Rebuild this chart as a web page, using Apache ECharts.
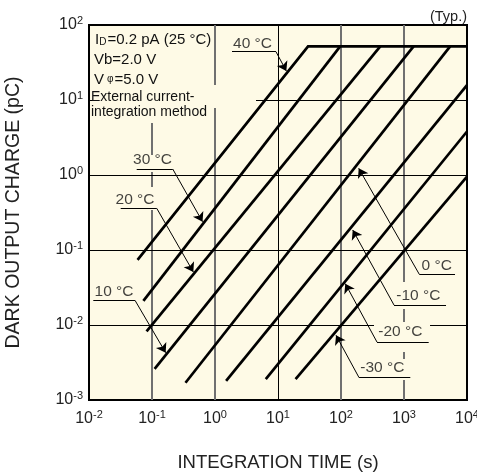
<!DOCTYPE html>
<html><head><meta charset="utf-8">
<script src="https://cdn.jsdelivr.net/npm/echarts@6/dist/echarts.min.js"></script>
<style>html,body{margin:0;padding:0;background:#fff}#c{width:477px;height:474px}</style>
</head><body><div id="c"></div>
<script>
// ---- data ----
const xTicks = [0.01, 0.1, 1, 10, 100, 1000, 10000];
const yTicks = [0.001, 0.01, 0.1, 1, 10, 100];
const temps = ['40 °C', '30 °C', '20 °C', '10 °C', '0 °C', '-10 °C', '-20 °C', '-30 °C'];
// [integration time (s), dark output charge (pC)]
const t40 = [[0.059, 0.074], [30, 52], [10000, 52]];
const t30 = [[0.073, 0.021], [97, 52]];
const t20 = [[0.082, 0.0082], [420, 52]];
const t10 = [[0.11, 0.0026], [1420, 52]];
const t0 = [[0.34, 0.0017], [5400, 52]];
const tm10 = [[1.5, 0.0018], [10000, 15.8]];
const tm20 = [[6.4, 0.0019], [10000, 3.8]];
const tm30 = [[19, 0.0019], [10000, 0.95]];
const curves = [t40, t30, t20, t10, t0, tm10, tm20, tm30];

// ---- annotation layout (log10 data coordinates) ----
// text centre, underline [x1,x2,y], arrow tip, side of leader start
const ann = [
  [[0.595, 1.747], [0.270, 0.968, 1.644], [1.132, 1.387], 'L'],
  [[-0.992, 0.200], [-1.243, -0.671, 0.080], [-0.198, -0.623], 'L'],
  [[-1.270, -0.333], [-1.497, -0.925, -0.444], [-0.344, -1.293], 'L'],
  [[-1.603, -1.553], [-1.932, -1.270, -1.671], [-0.783, -2.369], 'L'],
  [[3.519, -1.213], [3.243, 3.810, -1.324], [2.281, 0.089], 'R'],
  [[3.227, -1.613], [2.841, 3.667, -1.733], [2.186, -0.733], 'R'],
  [[2.941, -2.093], [2.571, 3.392, -2.227], [2.068, -1.449], 'R'],
  [[2.656, -2.567], [2.281, 3.100, -2.693], [1.921, -2.137], 'R']
];
const P = v => Math.pow(10, v);
// grid line segments (log10): vertical [x, y1, y2], horizontal [y, x1, x2]
const vGrey = [[-1, 0.693, 0.267], [-1, 0.04, -0.16], [-1, -0.467, -3], [0, 2, 1.2], [0, 0.893, -3],
  [2, 2, -3], [3, 2, -1.427], [3, -1.787, -1.96], [3, -2.36, -2.453], [3, -2.733, -3]];
const vBlack = [[1, 2, -3]];
const hBlack = [[1, -2, -1.905], [1, 0.651, 4], [0, -2, 4], [-1, -2, 4], [-2, -2, 2.524], [-2, 3.413, 4]];

const FONT = "'Liberation Sans', Arial, Helvetica, sans-serif";
const chart = echarts.init(document.getElementById('c'), null, {renderer: 'canvas'});

const gridGrey = vGrey.map(s => ({coords: [[P(s[0]), P(s[1])], [P(s[0]), P(s[2])]]}));
const gridBlack = vBlack.map(s => ({coords: [[P(s[0]), P(s[1])], [P(s[0]), P(s[2])]]}))
  .concat(hBlack.map(s => ({coords: [[P(s[1]), P(s[0])], [P(s[2]), P(s[0])]]})));
const underlines = ann.map(a => ({coords: [[P(a[1][0]), P(a[1][2])], [P(a[1][1]), P(a[1][2])]]}));
const leaders = ann.map(a => {
  const sx = a[3] === 'L' ? a[1][1] : a[1][0];
  return {coords: [[P(sx), P(a[1][2])], [P(a[2][0]), P(a[2][1])]]};
});
const labelPts = ann.map((a, i) => ({value: [P(a[0][0]), P(a[0][1])], name: temps[i]}));

const tickFmt = v => {
  const e = Math.round(Math.log10(v));
  return '{b|10}{s|' + e + '}';
};
const tickRich = {
  b: {fontSize: 16, fontFamily: FONT, color: '#222', lineHeight: 20},
  s: {fontSize: 11, fontFamily: FONT, color: '#222', verticalAlign: 'top', lineHeight: 12}
};

const series = [
  {type: 'lines', coordinateSystem: 'cartesian2d', z: 1, silent: true, animation: false,
   lineStyle: {color: '#707070', width: 2, opacity: 1}, data: gridGrey},
  {type: 'lines', coordinateSystem: 'cartesian2d', z: 1, silent: true, animation: false,
   lineStyle: {color: '#000', width: 1, opacity: 1}, data: gridBlack},
  {type: 'lines', coordinateSystem: 'cartesian2d', z: 4, silent: true, animation: false,
   lineStyle: {color: '#000', width: 1, opacity: 1}, data: underlines},
  {type: 'lines', coordinateSystem: 'cartesian2d', z: 4, silent: true, animation: false,
   symbol: ['none', 'arrow'], symbolSize: [5, 9],
   lineStyle: {color: '#000', width: 1, opacity: 1}, data: leaders},
  {type: 'scatter', z: 5, silent: true, animation: false, symbolSize: 0, data: labelPts,
   label: {show: true, position: 'inside', formatter: '{b}', fontSize: 15.5, fontFamily: FONT, color: '#111'}}
];
curves.forEach((c, i) => series.push({
  type: 'line', name: temps[i], data: c, z: 3, showSymbol: false, silent: true, animation: false,
  lineStyle: {color: '#000', width: 2.7, cap: 'butt', join: 'miter'}
}));

chart.setOption({
  animation: false,
  backgroundColor: '#fff',
  grid: {left: 89, right: 10, top: 25, bottom: 74, show: true, backgroundColor: '#fefae6',
         borderColor: '#000', borderWidth: 2, containLabel: false, outerBoundsMode: 'none'},
  xAxis: {type: 'log', logBase: 10, min: xTicks[0], max: xTicks[xTicks.length - 1], splitNumber: 6,
    name: 'INTEGRATION TIME (s)', nameLocation: 'middle', nameGap: 53,
    nameTextStyle: {fontSize: 18.5, fontFamily: FONT, color: '#222'},
    axisLine: {show: false}, axisTick: {show: false}, splitLine: {show: false},
    axisLabel: {formatter: tickFmt, rich: tickRich, margin: 9, showMinLabel: true, showMaxLabel: true}},
  yAxis: {type: 'log', logBase: 10, min: yTicks[0], max: yTicks[yTicks.length - 1], splitNumber: 5,
    name: 'DARK OUTPUT CHARGE (pC)', nameLocation: 'middle', nameGap: 65, nameRotate: 90,
    nameTextStyle: {fontSize: 19.5, fontFamily: FONT, color: '#222'},
    axisLine: {show: false}, axisTick: {show: false}, splitLine: {show: false},
    axisLabel: {formatter: tickFmt, rich: tickRich, margin: 6, showMinLabel: true, showMaxLabel: true}},
  graphic: [
    {type: 'text', right: 10, top: 9, style: {text: '(Typ.)', font: '14.5px ' + FONT, fill: '#222'}},
    {type: 'text', left: 95, top: 32, z: 10, style: {text: 'I{sub|D}=0.2 pA (25 °C)', font: '15px ' + FONT, fill: '#111',
      rich: {sub: {fontSize: 10, fontFamily: FONT, verticalAlign: 'bottom', lineHeight: 15, fill: '#111', padding: [0, 1, 0, 0]}}}},
    {type: 'text', left: 94, top: 52, z: 10, style: {text: 'Vb=2.0 V', font: '15px ' + FONT, fill: '#111'}},
    {type: 'text', left: 94, top: 72, z: 10, style: {text: 'V{sub|φ}=5.0 V', font: '15px ' + FONT, fill: '#111',
      rich: {sub: {fontSize: 10, fontFamily: FONT, lineHeight: 15, fill: '#111', padding: [0, 1, 0, 3]}}}},
    {type: 'text', left: 91, top: 90, z: 10, style: {text: 'External current-', font: '14px ' + FONT, fill: '#111'}},
    {type: 'text', left: 91, top: 105, z: 10, style: {text: 'integration method', font: '14px ' + FONT, fill: '#111'}}
  ],
  series: series
});
</script></body></html>
